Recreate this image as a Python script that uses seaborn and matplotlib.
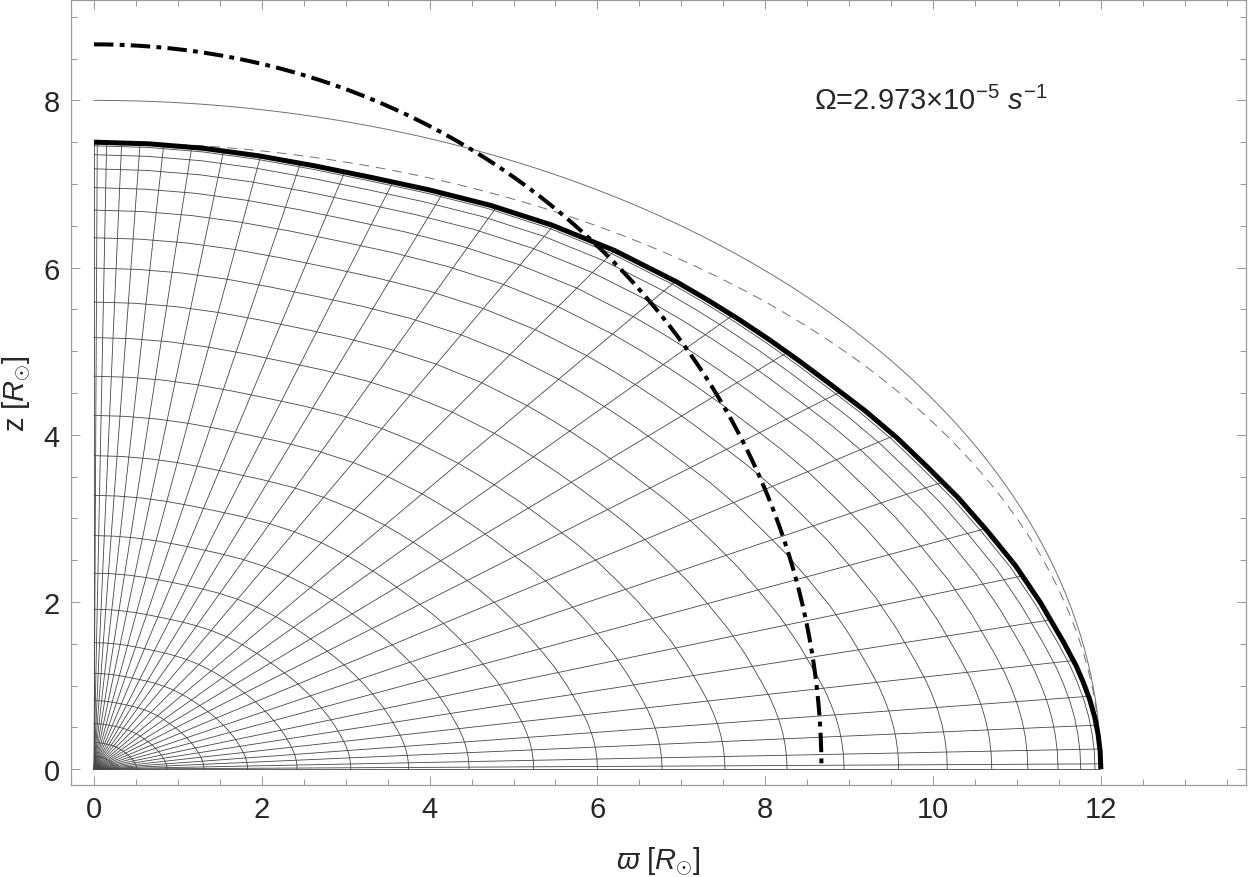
import numpy as np
import pandas as pd
import seaborn as sns
import matplotlib.pyplot as plt
from matplotlib.patches import Polygon
from matplotlib.ticker import MultipleLocator

# model surface (thick curve), in R_sun (pole -> equator)
surf_w = [0.0, 0.654, 1.309, 1.966, 2.627, 3.301, 4.000, 4.723, 5.460, 6.204, 6.945,
          7.314, 7.684, 8.056, 8.428, 8.804, 9.191, 9.569, 9.932, 10.299, 10.644, 10.982,
          11.282, 11.554, 11.708, 11.793, 11.868, 11.926, 11.967, 11.992, 12.0]
surf_z = [7.500, 7.480, 7.426, 7.336, 7.217, 7.079, 6.928, 6.745, 6.507, 6.204, 5.828,
          5.612, 5.381, 5.132, 4.866, 4.583, 4.286, 3.964, 3.615, 3.247, 2.852, 2.435,
          1.989, 1.521, 1.231, 1.032, 0.830, 0.625, 0.418, 0.209, 0.0]

# equatorial radius of the inner surfaces of the mapping (R_sun)
level_w = [0.03, 0.08, 0.25, 0.51, 0.87, 1.31, 1.83, 2.42, 3.06, 3.75, 4.47, 5.24,
           6.00, 6.77, 7.52, 8.26, 8.94, 9.59, 10.17, 10.70, 11.13, 11.49, 11.76, 11.93]

# colatitude of the radial lines of the mapping (deg)
ray_theta = [0, 0.3, 1.15, 2.52, 4.2, 6.35, 8.9, 11.8, 15.15, 18.75, 22.7, 26.9, 31.1,
             35.5, 40.1, 45.0, 49.9, 54.5, 58.9, 63.1, 67.3, 71.25, 74.85, 78.2, 81.1,
             83.65, 85.8, 87.48, 88.85, 89.7, 90]

# reference spheroids (thin solid, thin dashed) and corotation circle (dash-dot)
ell_a = 12.0
ell_b_solid = 8.0
ell_b_dashed = 7.5
r_corot = 8.67

omega_label = r"Ω=2.973×10$^{-5}$ $s^{-1}$"

sns.set_style("ticks")
plt.rcParams["font.family"] = ["Liberation Sans", "DejaVu Sans"]
plt.rcParams["mathtext.fontset"] = "custom"
plt.rcParams["mathtext.rm"] = "Liberation Sans"
plt.rcParams["mathtext.it"] = "Liberation Sans:italic"
plt.rcParams["lines.scale_dashes"] = False

fig = plt.figure(figsize=(12.5, 8.78), dpi=100)
ax = fig.add_axes([0.0568, 0.1048, 0.94, 0.894])

# mapping grid: scaled copies of the surface
rows = []
for j, w in enumerate(level_w):
    s = w / surf_w[-1]
    for x, z in zip(surf_w, surf_z):
        rows.append((f"c{j}", x * s, z * s))
levels_df = pd.DataFrame(rows, columns=["line", "w", "z"])

rows = []
for k, th in enumerate(ray_theta):
    t = np.radians(th)
    rows.append((f"r{k}", 0.0, 0.0))
    rows.append((f"r{k}", 13.0 * np.sin(t), 13.0 * np.cos(t)))
rays_df = pd.DataFrame(rows, columns=["line", "w", "z"])

grid_kw = dict(x="w", y="z", units="line", estimator=None, sort=False,
               color="#454545", lw=0.6, legend=False, ax=ax)
sns.lineplot(data=levels_df, **grid_kw)
n0 = len(ax.lines)
sns.lineplot(data=rays_df, **grid_kw)

# rays stop at the surface
clip_pts = [(-0.05, -0.05), (-0.05, surf_z[0])] + list(zip(surf_w, surf_z)) + [(surf_w[-1], -0.05)]
clip = Polygon(clip_pts, closed=True, transform=ax.transData)
for ln in ax.lines[n0:]:
    ln.set_clip_path(clip)

# reference curves
t = np.linspace(0, np.pi / 2, 300)
solid_df = pd.DataFrame({"w": ell_a * np.sin(t), "z": ell_b_solid * np.cos(t)})
dashed_df = pd.DataFrame({"w": ell_a * np.sin(t), "z": ell_b_dashed * np.cos(t)})
corot_df = pd.DataFrame({"w": r_corot * np.sin(t), "z": r_corot * np.cos(t)})

sns.lineplot(data=solid_df, x="w", y="z", estimator=None, sort=False,
             color="#707070", lw=0.7, ax=ax)
sns.lineplot(data=dashed_df, x="w", y="z", estimator=None, sort=False,
             color="#707070", lw=0.7, ax=ax, linestyle=(0, (7, 5)))
sns.lineplot(data=corot_df, x="w", y="z", estimator=None, sort=False,
             color="black", lw=2.9, ax=ax, linestyle=(0, (14, 4.5, 3.5, 4.5)))

surf_df = pd.DataFrame({"w": surf_w, "z": surf_z})
sns.lineplot(data=surf_df, x="w", y="z", estimator=None, sort=False,
             color="black", lw=3.6, ax=ax, solid_capstyle="butt", solid_joinstyle="round")

ax.text(8.58, 8.0, omega_label, fontsize=21, va="center", ha="left")

ax.set_xlim(-0.274, 13.73)
ax.set_ylim(-0.19, 9.2)
ax.set_xticks(np.arange(0, 13, 2))
ax.set_yticks(np.arange(0, 9, 2))
ax.xaxis.set_minor_locator(MultipleLocator(0.5))
ax.yaxis.set_minor_locator(MultipleLocator(0.5))
ax.tick_params(which="both", direction="in", top=True, right=True,
               color="#9a9a9a", width=0.75, labelsize=21)
ax.tick_params(which="major", length=6.5)
ax.tick_params(which="minor", length=4.2)
ax.tick_params(axis="x", pad=7)
ax.tick_params(axis="y", pad=8)
for sp in ax.spines.values():
    sp.set_color("#9a9a9a")
    sp.set_linewidth(0.9)

ax.set_xlabel(r"$\varpi$ $[R_{\odot}]$", fontsize=21, labelpad=15)
ax.set_ylabel(r"z $[R_{\odot}]$", fontsize=21, labelpad=8)

fig.savefig("out.png", dpi=100)
